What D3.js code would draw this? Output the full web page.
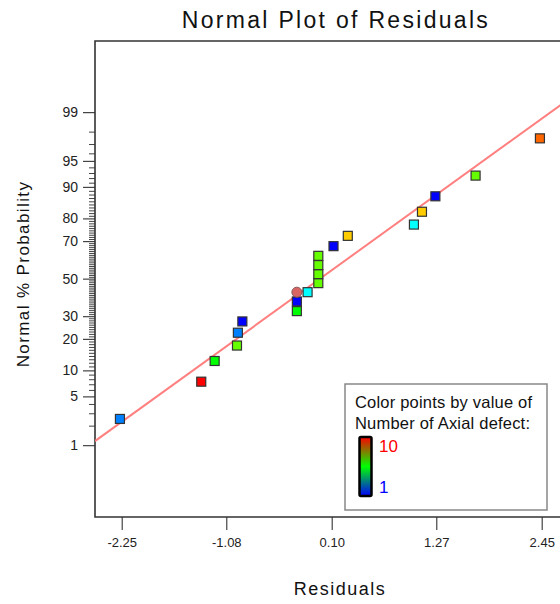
<!DOCTYPE html>
<html>
<head>
<meta charset="utf-8">
<script src="https://cdn.jsdelivr.net/npm/d3@7"></script>
<style>
  body { margin: 0; background: #fff; }
  svg { display: block; font-family: "Liberation Sans", Arial, sans-serif; }
</style>
</head>
<body>
<div id="chart"></div>
<script>
// residuals, sorted by rank
const residuals = [-2.27, -1.36, -1.21, -0.96, -0.95, -0.90, -0.29, -0.29, -0.17, -0.05,
                   -0.05, -0.05, -0.05, 0.12, 0.28, 1.02, 1.11, 1.26, 1.71, 2.43]
const probabilities = [2.5, 7.5, 12.5, 17.5, 22.5, 27.5, 32.5, 37.5, 42.5, 47.5,
                       52.5, 57.5, 62.5, 67.5, 72.5, 77.5, 82.5, 87.5, 92.5, 97.5]
const axialDefects = [2, 10, 5, 6, 2, 1, 5, 1, 3, 6, 6, 6, 6, 1, 8, 3, 8, 1, 6, 9]
// selected run (drawn as a circle)
const highlighted = [{ residual: -0.29, prob: 42.5 }]
// fitted normal line
const fitMean = -0.03
const fitSd = 1.11

const xTicks = [-2.25, -1.08, 0.10, 1.27, 2.45]
const yMajor = [1, 5, 10, 20, 30, 50, 70, 80, 90, 95, 99]
const yMinor = d3.range(2, 99).filter(p => !yMajor.includes(p))
const colorRange = [1, 10]

// inverse normal cdf (Acklam)
function probit(p) {
    const a = [-3.969683028665376e+01, 2.209460984245205e+02, -2.759285104469687e+02, 1.383577518672690e+02, -3.066479806614716e+01, 2.506628277459239e+00]
    const b = [-5.447609879822406e+01, 1.615858368580409e+02, -1.556989798598866e+02, 6.680131188771972e+01, -1.328068155288572e+01]
    const c = [-7.784894002430293e-03, -3.223964580411365e-01, -2.400758277161838e+00, -2.549732539343734e+00, 4.374664141464968e+00, 2.938163982698783e+00]
    const d = [7.784695709041462e-03, 3.224671290700398e-01, 2.445134137142996e+00, 3.754408661907416e+00]
    const plow = 0.02425
    let q, r
    if (p < plow) {
        q = Math.sqrt(-2 * Math.log(p))
        return (((((c[0]*q+c[1])*q+c[2])*q+c[3])*q+c[4])*q+c[5]) / ((((d[0]*q+d[1])*q+d[2])*q+d[3])*q+1)
    }
    if (p > 1 - plow) {
        q = Math.sqrt(-2 * Math.log(1 - p))
        return -(((((c[0]*q+c[1])*q+c[2])*q+c[3])*q+c[4])*q+c[5]) / ((((d[0]*q+d[1])*q+d[2])*q+d[3])*q+1)
    }
    q = p - 0.5
    r = q * q
    return (((((a[0]*r+a[1])*r+a[2])*r+a[3])*r+a[4])*r+a[5])*q / (((((b[0]*r+b[1])*r+b[2])*r+b[3])*r+b[4])*r+1)
}

const width = 560, height = 604
const plotLeft = 95, plotTop = 41, plotBottom = 517, plotRight = 610

const x = d3.scaleLinear().domain([-2.549, -2.549 + (plotRight - plotLeft) / 89.36]).range([plotLeft, plotRight])
const z = d3.scaleLinear().domain([-3.33, 3.32]).range([plotBottom, plotTop])
const y = p => z(probit(p / 100))

// blue -> green -> red by hue
const hue = d3.scaleLinear().domain([colorRange[0], 5, colorRange[1]]).range([240, 120, 0])
const color = v => d3.hsl(hue(v), 1, 0.5).formatHex()

const svg = d3.select('#chart').append('svg')
    .attr('width', width)
    .attr('height', height)

const defs = svg.append('defs')
defs.append('clipPath').attr('id', 'plotClip')
    .append('rect')
    .attr('x', plotLeft).attr('y', plotTop)
    .attr('width', plotRight - plotLeft).attr('height', plotBottom - plotTop)

const grad = defs.append('linearGradient')
    .attr('id', 'legendGrad')
    .attr('x1', 0).attr('y1', 0).attr('x2', 0).attr('y2', 1)
grad.append('stop').attr('offset', '0%').attr('stop-color', '#ff0000')
grad.append('stop').attr('offset', '50%').attr('stop-color', '#00ff00')
grad.append('stop').attr('offset', '100%').attr('stop-color', '#0000ff')

// title
svg.append('text')
    .attr('x', 336).attr('y', 28)
    .attr('text-anchor', 'middle')
    .attr('font-size', 23)
    .attr('letter-spacing', 2.3)
    .attr('fill', '#111')
    .text('Normal Plot of Residuals')

// x axis
const xAxis = svg.append('g')
    .attr('transform', `translate(0,${plotBottom})`)
    .call(d3.axisBottom(x).tickValues(xTicks).tickSize(13).tickPadding(8).tickFormat(d => d.toFixed(2)))
xAxis.select('.domain').remove()
xAxis.selectAll('line').attr('stroke', '#444').attr('stroke-width', 1.2)
xAxis.selectAll('text').attr('font-size', 13).attr('fill', '#222').attr('font-family', null)

// y axis, minor ticks first
const yMinorAxis = svg.append('g')
    .attr('transform', `translate(${plotLeft},0)`)
    .call(d3.axisLeft(z).tickValues(yMinor.map(p => probit(p / 100))).tickSize(6).tickFormat(''))
yMinorAxis.select('.domain').remove()
yMinorAxis.selectAll('line').attr('stroke', '#444').attr('stroke-width', 1)

const yAxis = svg.append('g')
    .attr('transform', `translate(${plotLeft},0)`)
    .call(d3.axisLeft(z).tickValues(yMajor.map(p => probit(p / 100))).tickSize(12).tickPadding(5)
        .tickFormat((d, i) => yMajor[i]))
yAxis.select('.domain').remove()
yAxis.selectAll('line').attr('stroke', '#444').attr('stroke-width', 1.2)
yAxis.selectAll('text').attr('font-size', 14).attr('fill', '#222').attr('font-family', null)

// frame (right side runs off the page)
svg.append('path')
    .attr('d', `M${plotRight},${plotTop}H${plotLeft}V${plotBottom}H${plotRight}`)
    .attr('fill', 'none')
    .attr('stroke', '#333')
    .attr('stroke-width', 1.6)

// axis titles
svg.append('text')
    .attr('x', 340).attr('y', 595)
    .attr('text-anchor', 'middle')
    .attr('font-size', 18)
    .attr('letter-spacing', 1.5)
    .attr('fill', '#111')
    .text('Residuals')

svg.append('text')
    .attr('transform', 'translate(29,274) rotate(-90)')
    .attr('text-anchor', 'middle')
    .attr('font-size', 17)
    .attr('letter-spacing', 1.4)
    .attr('fill', '#111')
    .text('Normal % Probability')

const plot = svg.append('g').attr('clip-path', 'url(#plotClip)')

// fitted line
const line = d3.line()
    .x(r => x(r))
    .y(r => z((r - fitMean) / fitSd))
plot.append('path')
    .attr('d', line(x.domain()))
    .attr('fill', 'none')
    .attr('stroke', '#ff8080')
    .attr('stroke-width', 2)

// points
const points = residuals.map((r, i) => ({ r, p: probabilities[i], v: axialDefects[i] }))
const sq = 9
plot.append('g')
    .selectAll('rect')
    .data(points)
    .enter()
    .append('rect')
    .attr('x', d => x(d.r) - sq / 2)
    .attr('y', d => y(d.p) - sq / 2)
    .attr('width', sq)
    .attr('height', sq)
    .attr('fill', d => color(d.v))
    .attr('stroke', '#333')
    .attr('stroke-width', 1.2)

plot.append('g')
    .selectAll('circle')
    .data(highlighted)
    .enter()
    .append('circle')
    .attr('cx', d => x(d.residual))
    .attr('cy', d => y(d.prob))
    .attr('r', 5)
    .attr('fill', '#d86464')
    .attr('stroke', '#8a5a5a')
    .attr('stroke-width', 1)

// legend
const lg = svg.append('g')
lg.append('rect')
    .attr('x', 345).attr('y', 384)
    .attr('width', 202).attr('height', 126)
    .attr('fill', '#fff')
    .attr('stroke', '#888')
    .attr('stroke-width', 1.5)
lg.append('text')
    .attr('x', 355).attr('y', 408)
    .attr('font-size', 16.5)
    .attr('letter-spacing', 0.2)
    .attr('fill', '#111')
    .text('Color points by value of')
lg.append('text')
    .attr('x', 355).attr('y', 429)
    .attr('font-size', 16.5)
    .attr('letter-spacing', 0.2)
    .attr('fill', '#111')
    .text('Number of Axial defect:')
lg.append('rect')
    .attr('x', 359.5).attr('y', 437)
    .attr('width', 12).attr('height', 59)
    .attr('rx', 1.5)
    .attr('fill', 'url(#legendGrad)')
    .attr('stroke', '#000')
    .attr('stroke-width', 2.5)
lg.append('text')
    .attr('x', 379).attr('y', 452)
    .attr('font-size', 17)
    .attr('fill', color(colorRange[1]))
    .text(colorRange[1])
lg.append('text')
    .attr('x', 379).attr('y', 493)
    .attr('font-size', 17)
    .attr('fill', color(colorRange[0]))
    .text(colorRange[0])
</script>
</body>
</html>
